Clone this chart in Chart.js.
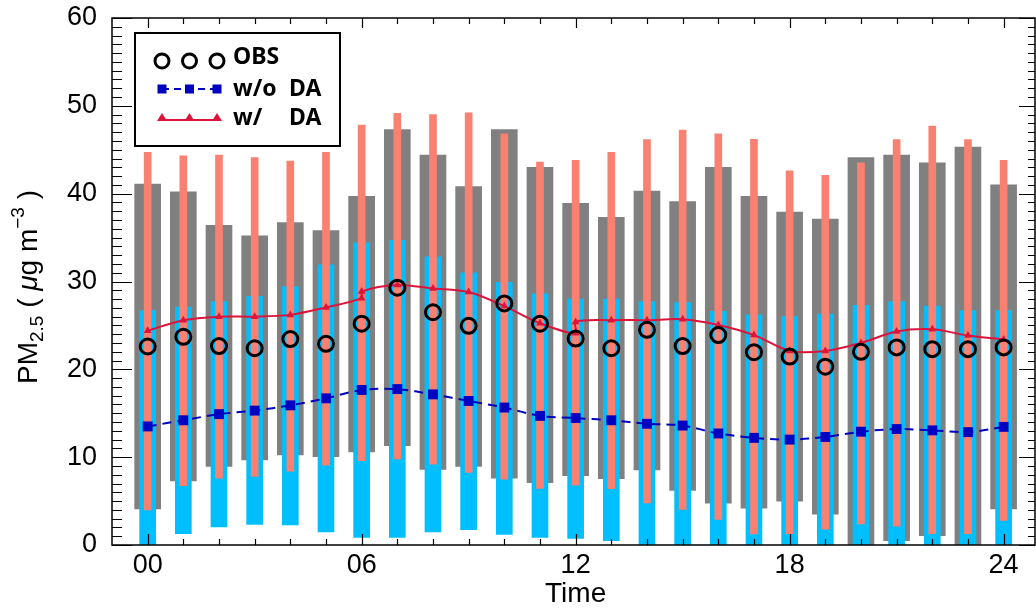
<!DOCTYPE html>
<html>
<head>
<meta charset="utf-8">
<script src="https://cdn.jsdelivr.net/npm/chart.js@4"></script>
<style>
  body { margin: 0; background: #fff; }
  #wrap { width: 1036px; height: 611px; position: relative; }
</style>
</head>
<body>
<div id="wrap"><canvas id="pmChart"></canvas></div>
<script>
// hourly data
const hours = [0, 1, 2, 3, 4, 5, 6, 7, 8, 9, 10, 11, 12, 13, 14, 15, 16, 17, 18, 19, 20, 21, 22, 23, 24];
const xTickHours = [0, 6, 12, 18, 24];
const yTicks = [0, 10, 20, 30, 40, 50, 60];

const grayLow = [4.1, 7.3, 8.95, 9.7, 10.25, 10.05, 10.6, 11.3, 8.6, 8.95, 7.6, 7.1, 7.9, 7.55, 8.55, 6.2, 4.75, 4.2, 5.0, 3.5, 0, 0.5, 1.06, 0, 4.1];
const grayHigh = [41.1, 40.2, 36.4, 35.2, 36.7, 35.8, 39.7, 47.3, 44.4, 40.8, 47.3, 43.0, 38.9, 37.3, 40.3, 39.1, 43.0, 39.7, 37.9, 37.1, 44.1, 44.4, 43.5, 45.3, 41.0];

const blueLow = [0, 1.3, 2.05, 2.35, 2.3, 1.5, 0.85, 0.85, 1.5, 1.75, 1.2, 0.85, 0.75, 0.5, 0, 0, 0, 0, 0, 0, 0, 0, 0, 0, 0];
const blueHigh = [26.7, 27.1, 27.7, 28.3, 29.4, 31.9, 34.4, 34.7, 32.8, 31.0, 29.9, 28.6, 28.0, 28.0, 27.7, 27.6, 26.6, 26.2, 26.0, 26.3, 27.3, 27.7, 27.2, 26.7, 26.7];

const salmonLow = [4.0, 6.75, 7.6, 7.8, 8.4, 9.1, 9.6, 9.8, 9.2, 8.25, 7.5, 6.45, 6.8, 6.4, 4.8, 4.05, 2.9, 1.25, 1.3, 1.8, 2.4, 2.15, 1.3, 1.3, 2.8];
const salmonHigh = [44.7, 44.3, 44.4, 44.1, 43.7, 44.7, 47.8, 49.15, 49.0, 49.2, 46.8, 43.6, 43.8, 44.7, 46.15, 47.25, 46.8, 46.2, 42.6, 42.1, 43.5, 46.15, 47.7, 46.15, 43.8];

const obs = [22.6, 23.7, 22.65, 22.4, 23.45, 22.9, 25.2, 29.3, 26.5, 24.95, 27.5, 25.2, 23.5, 22.4, 24.5, 22.65, 23.9, 21.95, 21.45, 20.3, 22.0, 22.5, 22.3, 22.3, 22.5];
const noDA = [13.5, 14.2, 14.9, 15.3, 15.9, 16.7, 17.65, 17.75, 17.15, 16.4, 15.65, 14.7, 14.45, 14.2, 13.8, 13.6, 12.7, 12.2, 12.0, 12.3, 12.9, 13.2, 13.05, 12.85, 13.45];

// w/ DA has a jump at 06 and 12 (two values at those hours)
const withDAHours = [0, 1, 2, 3, 4, 5, 6, 6, 7, 8, 9, 10, 11, 12, 12, 13, 14, 15, 16, 17, 18, 19, 20, 21, 22, 23, 24];
const withDA = [24.4, 25.6, 26.0, 26.0, 26.2, 27.05, 28.1, 28.85, 29.6, 29.2, 28.8, 27.2, 25.25, 24.1, 25.4, 25.6, 25.6, 25.7, 25.05, 23.9, 22.1, 22.1, 23.0, 24.3, 24.55, 23.85, 23.4];

const FONT = '"Liberation Sans", Arial, Helvetica, sans-serif';
const range = (lo, hi) => hours.map((h, i) => ({ x: h, y: [lo[i], hi[i]] }));
const pts = (xs, ys) => xs.map((h, i) => ({ x: h, y: ys[i] }));

const extras = {
  id: "extras",
  afterDraw(chart) {
    const { ctx, chartArea: a, scales } = chart;
    const x = scales.x, y = scales.y;
    ctx.save();

    // frame + inward ticks
    ctx.strokeStyle = "#000";
    ctx.lineWidth = 1.5;
    ctx.strokeRect(a.left, a.top, a.right - a.left, a.bottom - a.top);
    ctx.lineWidth = 1.2;
    ctx.beginPath();
    for (let v = 0; v <= 60; v++) {
      const py = Math.round(y.getPixelForValue(v)) + 0.5;
      const major = v % 10 === 0;
      ctx.moveTo(a.left, py); ctx.lineTo(a.left + (major ? 20 : 10), py);
      ctx.moveTo(a.right, py); ctx.lineTo(a.right - (major ? 16 : 7), py);
    }
    for (let h = 0; h <= 24; h++) {
      const px = Math.round(x.getPixelForValue(h)) + 0.5;
      const major = h % 6 === 0;
      ctx.moveTo(px, a.bottom); ctx.lineTo(px, a.bottom - (major ? 11 : 6));
      ctx.moveTo(px, a.top); ctx.lineTo(px, a.top + (major ? 10 : 6));
    }
    ctx.stroke();

    // x title
    ctx.fillStyle = "#000";
    ctx.font = "28px " + FONT;
    ctx.textAlign = "center";
    ctx.textBaseline = "middle";
    ctx.fillText("Time", x.getPixelForValue(12), 594);

    // y title, rotated, with sub/superscript
    const parts = [
      { t: "PM", f: "28px " + FONT, dy: 0 },
      { t: "2.5", f: "19px " + FONT, dy: 6 },
      { t: " ( ", f: "28px " + FONT, dy: 0 },
      { t: "\u03bc", f: "italic 28px " + FONT, dy: 0 },
      { t: "g m", f: "28px " + FONT, dy: 0 },
      { t: "\u22123", f: "19px " + FONT, dy: -13 },
      { t: " )", f: "28px " + FONT, dy: 0 }
    ];
    let total = 0;
    parts.forEach(p => { ctx.font = p.f; p.w = ctx.measureText(p.t).width; total += p.w; });
    ctx.translate(37, 287);
    ctx.rotate(-Math.PI / 2);
    ctx.textAlign = "left";
    ctx.textBaseline = "alphabetic";
    let cx = -total / 2;
    parts.forEach(p => { ctx.font = p.f; ctx.fillText(p.t, cx, p.dy); cx += p.w; });
    ctx.setTransform(1, 0, 0, 1, 0, 0);

    // legend box
    ctx.fillStyle = "#fff";
    ctx.fillRect(135, 33, 205, 113);
    ctx.strokeStyle = "#000";
    ctx.lineWidth = 2;
    ctx.strokeRect(135, 33, 205, 113);
    const sx = [162, 189.5, 217];

    ctx.lineWidth = 3;
    sx.forEach(px => { ctx.beginPath(); ctx.arc(px, 61, 7, 0, Math.PI * 2); ctx.stroke(); });

    ctx.strokeStyle = "#0000c0";
    ctx.lineWidth = 2;
    ctx.setLineDash([7, 5]);
    ctx.beginPath(); ctx.moveTo(sx[0], 89); ctx.lineTo(sx[2], 89); ctx.stroke();
    ctx.setLineDash([]);
    ctx.fillStyle = "#0000c0";
    sx.forEach(px => ctx.fillRect(px - 4.5, 84.5, 9, 9));

    ctx.strokeStyle = "#dc143c";
    ctx.fillStyle = "#dc143c";
    ctx.beginPath(); ctx.moveTo(sx[0], 120); ctx.lineTo(sx[2], 120); ctx.stroke();
    sx.forEach(px => {
      ctx.beginPath();
      ctx.moveTo(px, 113); ctx.lineTo(px + 5, 121); ctx.lineTo(px - 5, 121);
      ctx.closePath(); ctx.fill();
    });

    ctx.fillStyle = "#000";
    ctx.font = 'bold 23px "Noto Sans", ' + FONT;
    ctx.textAlign = "left";
    ctx.textBaseline = "middle";
    ctx.fillText("OBS", 233, 57);
    ctx.fillText("w/o", 233, 89);
    ctx.fillText("DA", 289, 89);
    ctx.fillText("w/", 233, 118);
    ctx.fillText("DA", 289, 118);
    ctx.restore();
  }
};

new Chart(document.getElementById("pmChart"), {
  type: "bar",
  data: {
    datasets: [
      {
        type: "line", label: "OBS", data: pts(hours, obs), order: 0,
        showLine: false, pointStyle: "circle", pointRadius: 7.5,
        pointBorderWidth: 3, pointBorderColor: "#000", pointBackgroundColor: "rgba(0,0,0,0)"
      },
      {
        type: "line", label: "w/ DA", data: pts(withDAHours, withDA), order: 1,
        borderColor: "#dc143c", borderWidth: 2, tension: 0.3,
        pointStyle: "triangle", pointRadius: 4.5, pointBackgroundColor: "#dc143c", pointBorderWidth: 0
      },
      {
        type: "line", label: "w/o DA", data: pts(hours, noDA), order: 2,
        borderColor: "#0000c0", borderWidth: 2, borderDash: [9, 6], tension: 0.3,
        pointStyle: "rect", pointRadius: 7, pointBackgroundColor: "#0000c0", pointBorderWidth: 0
      },
      { label: "salmon", data: range(salmonLow, salmonHigh), backgroundColor: "#fa8072", barThickness: 7, order: 3 },
      { label: "blue", data: range(blueLow, blueHigh), backgroundColor: "#00bfff", barThickness: 16, order: 4 },
      { label: "gray", data: range(grayLow, grayHigh), backgroundColor: "#808080", barThickness: 26, order: 5 }
    ]
  },
  options: {
    responsive: true,
    maintainAspectRatio: false,
    devicePixelRatio: 1,
    animation: false,
    layout: { autoPadding: false, padding: { top: 18, right: 1, left: 0, bottom: 0 } },
    datasets: { bar: { grouped: false, borderWidth: 0 } },
    plugins: { legend: { display: false }, tooltip: { enabled: false } },
    scales: {
      x: {
        type: "linear",
        offset: false,
        min: -1,
        max: 24.88,
        afterBuildTicks: (s) => { s.ticks = xTickHours.map(v => ({ value: v })); },
        afterFit: (s) => { s.height = 66; },
        grid: { display: false, offset: false },
        border: { display: false },
        ticks: {
          autoSkip: false, maxRotation: 0, padding: -4, color: "#000",
          font: { family: FONT, size: 27 },
          callback: (v) => String(v).padStart(2, "0")
        }
      },
      y: {
        min: 0,
        max: 60,
        afterBuildTicks: (s) => { s.ticks = yTicks.map(v => ({ value: v })); },
        afterFit: (s) => { s.width = 112; },
        // transparent tick marks give the label gap without extra top padding
        grid: { display: true, drawOnChartArea: false, drawTicks: true, tickLength: 15, tickColor: "rgba(0,0,0,0)" },
        border: { display: false },
        ticks: { padding: 0, color: "#000", font: { family: FONT, size: 27 } }
      }
    }
  },
  plugins: [extras]
});
</script>
</body>
</html>
